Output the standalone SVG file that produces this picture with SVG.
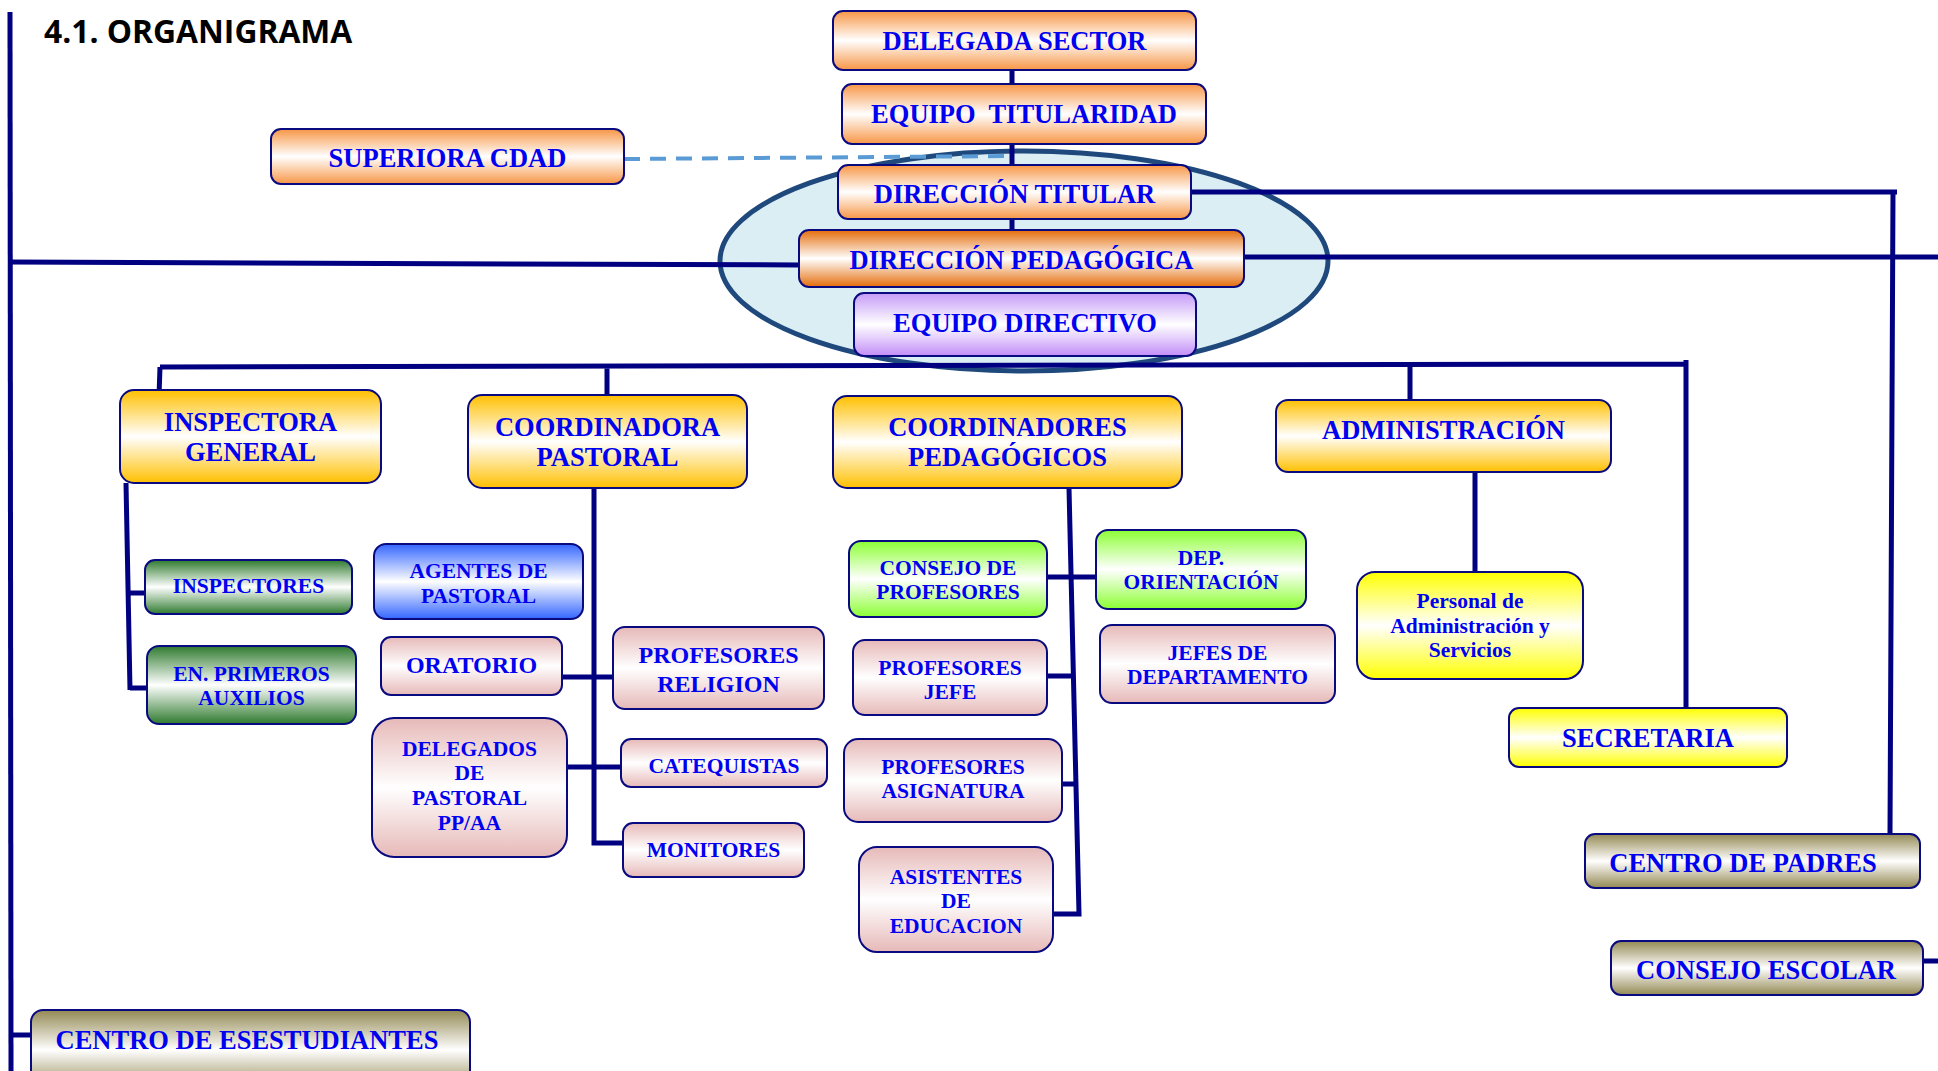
<svg xmlns="http://www.w3.org/2000/svg" width="1938" height="1071" viewBox="0 0 1938 1071">
<defs>
<linearGradient id="gOrange" x1="0" y1="0" x2="0" y2="1"><stop offset="0" stop-color="#F79646"/><stop offset="0.5" stop-color="#FFFFFF"/><stop offset="1" stop-color="#F79646"/></linearGradient>
<linearGradient id="gOrangeDark" x1="0" y1="0" x2="0" y2="1"><stop offset="0" stop-color="#E46C0A"/><stop offset="0.5" stop-color="#FFFFFF"/><stop offset="1" stop-color="#E46C0A"/></linearGradient>
<linearGradient id="gGold" x1="0" y1="0" x2="0" y2="1"><stop offset="0" stop-color="#FFC000"/><stop offset="0.5" stop-color="#FFFFFF"/><stop offset="1" stop-color="#FFC000"/></linearGradient>
<linearGradient id="gPurple" x1="0" y1="0" x2="0" y2="1"><stop offset="0" stop-color="#C59AF7"/><stop offset="0.5" stop-color="#FFFFFF"/><stop offset="1" stop-color="#C28DF7"/></linearGradient>
<linearGradient id="gGreenDark" x1="0" y1="0" x2="0" y2="1"><stop offset="0" stop-color="#2E7A2E"/><stop offset="0.5" stop-color="#FFFFFF"/><stop offset="1" stop-color="#2E7A2E"/></linearGradient>
<linearGradient id="gGreenLight" x1="0" y1="0" x2="0" y2="1"><stop offset="0" stop-color="#8CFF33"/><stop offset="0.5" stop-color="#FFFFFF"/><stop offset="1" stop-color="#8CFF33"/></linearGradient>
<linearGradient id="gBlue" x1="0" y1="0" x2="0" y2="1"><stop offset="0" stop-color="#3366FF"/><stop offset="0.5" stop-color="#FFFFFF"/><stop offset="1" stop-color="#3366FF"/></linearGradient>
<linearGradient id="gPink" x1="0" y1="0" x2="0" y2="1"><stop offset="0" stop-color="#E6B9B8"/><stop offset="0.5" stop-color="#FFFFFF"/><stop offset="1" stop-color="#E6B9B8"/></linearGradient>
<linearGradient id="gYellow" x1="0" y1="0" x2="0" y2="1"><stop offset="0" stop-color="#FFFF00"/><stop offset="0.5" stop-color="#FFFFFF"/><stop offset="1" stop-color="#FFFF00"/></linearGradient>
<linearGradient id="gOlive" x1="0" y1="0" x2="0" y2="1"><stop offset="0" stop-color="#938953"/><stop offset="0.5" stop-color="#FFFFFF"/><stop offset="1" stop-color="#938953"/></linearGradient>
</defs>
<style>
.box{stroke:#0A0A80;stroke-width:2}
.t{font-family:"Liberation Serif","Times New Roman",serif;font-weight:bold;fill:#0000F0;text-anchor:middle}
.big{font-size:26.5px}
.mid{font-size:24px}
.sm{font-size:21.5px}
.ln{fill:none;stroke:#000080;stroke-width:5}
.title{font-family:"Open Sans","Noto Sans",sans-serif;font-weight:bold;font-size:31.8px;fill:#000000}
</style>
<rect width="1938" height="1071" fill="#FFFFFF"/>
<text class="title" x="44" y="43">4.1. ORGANIGRAMA</text>
<g id="equipo-directivo-ellipse">
<ellipse cx="1024" cy="261" rx="304" ry="110" fill="#DAEEF3" stroke="#1F497D" stroke-width="5"/>
</g>
<g id="connectors">
<path class="ln" d="M10,12 L11,1071"/>
<path class="ln" d="M10,262 L799,265"/>
<path class="ln" d="M1012,70 V84 M1012,144 V165 M1012,219 V230"/>
<path class="ln" d="M1191,192 H1897 M1893,192 L1890,834"/>
<path class="ln" d="M1244,257 H1938"/>
<path class="ln" d="M160,367 L1686,364 M160,367 L159,396 M607,367 V395 M1410,366 V400 M1686,360 V708"/>
<path class="ln" d="M1475,472 V572"/>
<path class="ln" d="M126,483 L130,690 M128,593 H145 M130,688 H147"/>
<path class="ln" d="M594,488 V843 H623 M562,677 H613 M567,767 H621"/>
<path class="ln" d="M1069,488 L1079,914 H1053 M1047,577 H1096 M1047,676 H1074 M1062,784 H1076"/>
<path class="ln" d="M1923,961 H1938"/>
<path class="ln" d="M10,1035 H31"/>
<path d="M624,159 L1012,156" fill="none" stroke="#5B9BD5" stroke-width="4" stroke-dasharray="16 10"/>
</g>
<g id="delegada-sector"><rect class="box" x="833" y="11" width="363" height="59" rx="10" fill="url(#gOrange)"/><text class="t big" x="1014.5" y="50">DELEGADA SECTOR</text></g>
<g id="equipo-titularidad"><rect class="box" x="842" y="84" width="364" height="60" rx="10" fill="url(#gOrange)"/><text class="t big" x="1024" y="123" xml:space="preserve">EQUIPO  TITULARIDAD</text></g>
<g id="superiora-cdad"><rect class="box" x="271" y="129" width="353" height="55" rx="10" fill="url(#gOrange)"/><text class="t big" x="447.5" y="167">SUPERIORA CDAD</text></g>
<g id="direccion-titular"><rect class="box" x="838" y="165" width="353" height="54" rx="10" fill="url(#gOrange)"/><text class="t big" x="1014.5" y="203">DIRECCIÓN TITULAR</text></g>
<g id="direccion-pedagogica"><rect class="box" x="799" y="230" width="445" height="57" rx="10" fill="url(#gOrangeDark)"/><text class="t big" x="1021.5" y="269">DIRECCIÓN PEDAGÓGICA</text></g>
<g id="equipo-directivo"><rect class="box" x="854" y="293" width="342" height="63" rx="10" fill="url(#gPurple)"/><text class="t big" x="1025" y="332">EQUIPO DIRECTIVO</text></g>
<g id="inspectora-general"><rect class="box" x="120" y="390" width="261" height="93" rx="14" fill="url(#gGold)"/><text class="t big" x="250.5" y="431">INSPECTORA</text><text class="t big" x="250.5" y="461">GENERAL</text></g>
<g id="coordinadora-pastoral"><rect class="box" x="468" y="395" width="279" height="93" rx="14" fill="url(#gGold)"/><text class="t big" x="607.5" y="436">COORDINADORA</text><text class="t big" x="607.5" y="466">PASTORAL</text></g>
<g id="coordinadores-pedagogicos"><rect class="box" x="833" y="396" width="349" height="92" rx="14" fill="url(#gGold)"/><text class="t big" x="1007.5" y="436">COORDINADORES</text><text class="t big" x="1007.5" y="466">PEDAGÓGICOS</text></g>
<g id="administracion"><rect class="box" x="1276" y="400" width="335" height="72" rx="12" fill="url(#gGold)"/><text class="t big" x="1443.5" y="439">ADMINISTRACIÓN</text></g>
<g id="inspectores"><rect class="box" x="145" y="560" width="207" height="54" rx="10" fill="url(#gGreenDark)"/><text class="t sm" x="248.5" y="593">INSPECTORES</text></g>
<g id="en-primeros-auxilios"><rect class="box" x="147" y="646" width="209" height="78" rx="12" fill="url(#gGreenDark)"/><text class="t sm" x="251.5" y="681">EN. PRIMEROS</text><text class="t sm" x="251.5" y="705">AUXILIOS</text></g>
<g id="agentes-de-pastoral"><rect class="box" x="374" y="544" width="209" height="75" rx="12" fill="url(#gBlue)"/><text class="t sm" x="478.5" y="578">AGENTES DE</text><text class="t sm" x="478.5" y="603">PASTORAL</text></g>
<g id="oratorio"><rect class="box" x="381" y="637" width="181" height="58" rx="10" fill="url(#gPink)"/><text class="t mid" x="471.5" y="673">ORATORIO</text></g>
<g id="profesores-religion"><rect class="box" x="613" y="627" width="211" height="82" rx="12" fill="url(#gPink)"/><text class="t mid" x="718.5" y="663">PROFESORES</text><text class="t mid" x="718.5" y="692">RELIGION</text></g>
<g id="delegados-de-pastoral"><rect class="box" x="372" y="718" width="195" height="139" rx="22" fill="url(#gPink)"/><text class="t sm" x="469.5" y="756">DELEGADOS</text><text class="t sm" x="469.5" y="780">DE</text><text class="t sm" x="469.5" y="805">PASTORAL</text><text class="t sm" x="469.5" y="830">PP/AA</text></g>
<g id="catequistas"><rect class="box" x="621" y="739" width="206" height="48" rx="10" fill="url(#gPink)"/><text class="t sm" x="724" y="773">CATEQUISTAS</text></g>
<g id="monitores"><rect class="box" x="623" y="823" width="181" height="54" rx="10" fill="url(#gPink)"/><text class="t sm" x="713.5" y="857">MONITORES</text></g>
<g id="consejo-de-profesores"><rect class="box" x="849" y="541" width="198" height="76" rx="12" fill="url(#gGreenLight)"/><text class="t sm" x="948" y="575">CONSEJO DE</text><text class="t sm" x="948" y="599">PROFESORES</text></g>
<g id="dep-orientacion"><rect class="box" x="1096" y="530" width="210" height="79" rx="12" fill="url(#gGreenLight)"/><text class="t sm" x="1201" y="565">DEP.</text><text class="t sm" x="1201" y="589">ORIENTACIÓN</text></g>
<g id="profesores-jefe"><rect class="box" x="853" y="640" width="194" height="75" rx="12" fill="url(#gPink)"/><text class="t sm" x="950" y="675">PROFESORES</text><text class="t sm" x="950" y="699">JEFE</text></g>
<g id="jefes-de-departamento"><rect class="box" x="1100" y="625" width="235" height="78" rx="12" fill="url(#gPink)"/><text class="t sm" x="1217.5" y="660">JEFES DE</text><text class="t sm" x="1217.5" y="684">DEPARTAMENTO</text></g>
<g id="profesores-asignatura"><rect class="box" x="844" y="739" width="218" height="83" rx="14" fill="url(#gPink)"/><text class="t sm" x="953" y="774">PROFESORES</text><text class="t sm" x="953" y="798">ASIGNATURA</text></g>
<g id="asistentes-de-educacion"><rect class="box" x="859" y="847" width="194" height="105" rx="18" fill="url(#gPink)"/><text class="t sm" x="956" y="884">ASISTENTES</text><text class="t sm" x="956" y="908">DE</text><text class="t sm" x="956" y="933">EDUCACION</text></g>
<g id="personal-administracion"><rect class="box" x="1357" y="572" width="226" height="107" rx="18" fill="url(#gYellow)"/><text class="t sm" x="1470" y="608">Personal de</text><text class="t sm" x="1470" y="633">Administración y</text><text class="t sm" x="1470" y="657">Servicios</text></g>
<g id="secretaria"><rect class="box" x="1509" y="708" width="278" height="59" rx="10" fill="url(#gYellow)"/><text class="t big" x="1648" y="747">SECRETARIA</text></g>
<g id="centro-de-padres"><rect class="box" x="1585" y="834" width="335" height="54" rx="10" fill="url(#gOlive)"/><text class="t big" x="1743" y="872">CENTRO DE PADRES</text></g>
<g id="consejo-escolar"><rect class="box" x="1611" y="941" width="312" height="54" rx="10" fill="url(#gOlive)"/><text class="t big" x="1766" y="979">CONSEJO ESCOLAR</text></g>
<g id="centro-de-estudiantes"><rect class="box" x="31" y="1010" width="439" height="80" rx="12" fill="url(#gOlive)"/><text class="t big" x="247" y="1049">CENTRO DE ESESTUDIANTES</text></g>
</svg>
